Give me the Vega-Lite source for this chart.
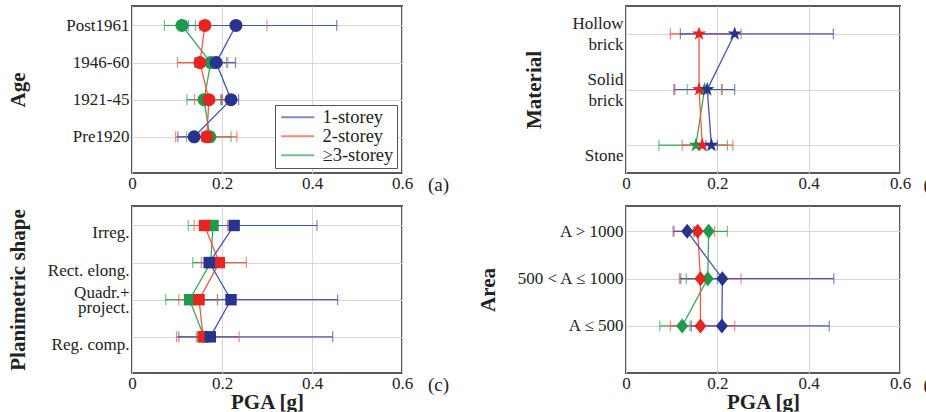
{
  "$schema": "https://vega.github.io/schema/vega-lite/v6.json",
  "background": "white",
  "config": {
    "font": "Liberation Serif",
    "view": {"stroke": "#5a5a5a", "strokeWidth": 2},
    "axis": {"labelFont": "Liberation Serif", "labelFontSize": 17, "labelColor": "#222222", "titleFont": "Liberation Serif", "titleFontSize": 21, "titleFontWeight": "bold", "titleColor": "#222222", "ticks": false, "domain": false, "gridColor": "#d6d6d6", "labelOverlap": false, "labelFlush": false},
    "axisY": {"labelPadding": 3},
    "axisX": {"labelPadding": 2, "titlePadding": 0}
  },
  "spacing": 10,
  "vconcat": [
    {
      "spacing": 72,
      "resolve": {"scale": {"stroke": "independent", "fill": "independent", "color": "independent"}, "legend": {"stroke": "independent"}},
      "hconcat": [
        {
          "width": 270,
          "height": 167,
          "data": {
            "values": [
              {"cat": "Post1961", "storey": "≥3-storey", "pga": 0.111, "lo": 0.072, "hi": 0.141},
              {"cat": "1946-60", "storey": "≥3-storey", "pga": 0.175, "lo": 0.140, "hi": 0.210},
              {"cat": "1921-45", "storey": "≥3-storey", "pga": 0.160, "lo": 0.122, "hi": 0.197},
              {"cat": "Pre1920", "storey": "≥3-storey", "pga": 0.173, "lo": 0.121, "hi": 0.220},
              {"cat": "Post1961", "storey": "2-storey", "pga": 0.162, "lo": 0.151, "hi": 0.300},
              {"cat": "1946-60", "storey": "2-storey", "pga": 0.151, "lo": 0.101, "hi": 0.213},
              {"cat": "1921-45", "storey": "2-storey", "pga": 0.171, "lo": 0.139, "hi": 0.201},
              {"cat": "Pre1920", "storey": "2-storey", "pga": 0.166, "lo": 0.097, "hi": 0.233},
              {"cat": "Post1961", "storey": "1-storey", "pga": 0.231, "lo": 0.125, "hi": 0.455},
              {"cat": "1946-60", "storey": "1-storey", "pga": 0.187, "lo": 0.140, "hi": 0.230},
              {"cat": "1921-45", "storey": "1-storey", "pga": 0.220, "lo": 0.199, "hi": 0.237},
              {"cat": "Pre1920", "storey": "1-storey", "pga": 0.138, "lo": 0.102, "hi": 0.155}
            ]
          },
          "encoding": {
            "y": {"field": "cat", "type": "nominal", "sort": ["Post1961", "1946-60", "1921-45", "Pre1920"], "scale": {"type": "point", "padding": 0.75, "align": 0.35}, "axis": {"title": "Age", "grid": true, "titleX": -104}}
          },
          "resolve": {"axis": {"x": "independent"}},
          "layer": [
            {
              "mark": {"type": "line", "strokeWidth": 1.3},
              "encoding": {
                "x": {"field": "pga", "type": "quantitative", "title": null, "scale": {"domain": [0, 0.6], "nice": false}, "axis": {"values": [0, 0.2, 0.4, 0.6], "format": "~f", "grid": true}},
                "stroke": {"field": "storey", "type": "nominal", "scale": {"domain": ["1-storey", "2-storey", "≥3-storey"], "range": ["#4657ad", "#ef5b3f", "#3aa75a"]},
                  "legend": {"orient": "bottom-right", "offset": 5, "title": null, "strokeColor": "#555555", "fillColor": "white", "padding": 3, "symbolType": "M-1,0H4.5", "symbolSize": 144, "symbolStrokeWidth": 2, "labelOffset": 26, "labelFont": "Liberation Serif", "labelFontSize": 18.5, "labelColor": "#222222", "rowPadding": 0}},
                "order": {"value": null}
              }
            },
            {"mark": {"type": "rule", "strokeWidth": 1.2}, "encoding": {"x": {"field": "lo", "type": "quantitative", "axis": null}, "x2": {"field": "hi"}, "stroke": {"field": "storey", "type": "nominal"}}},
            {"mark": {"type": "tick", "orient": "vertical", "size": 11, "thickness": 1.2}, "encoding": {"x": {"field": "lo", "type": "quantitative", "axis": null}, "color": {"field": "storey", "type": "nominal", "scale": {"domain": ["1-storey", "2-storey", "≥3-storey"], "range": ["#4657ad", "#ef5b3f", "#3aa75a"]}, "legend": null}}},
            {"mark": {"type": "tick", "orient": "vertical", "size": 11, "thickness": 1.2}, "encoding": {"x": {"field": "hi", "type": "quantitative", "axis": null}, "color": {"field": "storey", "type": "nominal"}}},
            {"mark": {"type": "point", "shape": "circle", "filled": true, "size": 170, "opacity": 1},
              "encoding": {
                "x": {"field": "pga", "type": "quantitative", "axis": {"orient": "top", "title": "(a)", "labels": false, "grid": false, "titleX": 306, "titleY": 178, "titleAngle": 0, "titleBaseline": "middle", "titleAlign": "center", "titleFontWeight": "normal", "titleFontSize": 19}},
                "fill": {"field": "storey", "type": "nominal", "scale": {"domain": ["1-storey", "2-storey", "≥3-storey"], "range": ["#27338f", "#e62420", "#1d9a4a"]}, "legend": null}
              }
            }
          ]
        },
        {
          "width": 274,
          "height": 167,
          "data": {
            "values": [
              {"cat": "Solid brick", "storey": "≥3-storey", "pga": 0.172, "lo": 0.134, "hi": 0.211},
              {"cat": "Stone", "storey": "≥3-storey", "pga": 0.153, "lo": 0.072, "hi": 0.222},
              {"cat": "Hollow brick", "storey": "2-storey", "pga": 0.160, "lo": 0.097, "hi": 0.252},
              {"cat": "Solid brick", "storey": "2-storey", "pga": 0.160, "lo": 0.107, "hi": 0.209},
              {"cat": "Stone", "storey": "2-storey", "pga": 0.167, "lo": 0.123, "hi": 0.234},
              {"cat": "Hollow brick", "storey": "1-storey", "pga": 0.238, "lo": 0.119, "hi": 0.454},
              {"cat": "Solid brick", "storey": "1-storey", "pga": 0.178, "lo": 0.105, "hi": 0.238},
              {"cat": "Stone", "storey": "1-storey", "pga": 0.187, "lo": 0.175, "hi": 0.200}
            ]
          },
          "encoding": {
            "y": {"field": "cat", "type": "nominal", "sort": ["Hollow brick", "Solid brick", "Stone"], "scale": {"type": "point", "padding": 0.5}, "axis": {"title": "Material", "grid": true, "titleX": -82, "labelExpr": "split(datum.label, ' ').length > 1 ? split(datum.label, ' ') : ['', datum.label]", "labelLineHeight": 21, "labelOffset": -10.5}}
          },
          "resolve": {"axis": {"x": "independent"}},
          "layer": [
            {
              "mark": {"type": "line", "strokeWidth": 1.3},
              "encoding": {
                "x": {"field": "pga", "type": "quantitative", "title": null, "scale": {"domain": [0, 0.6], "nice": false}, "axis": {"values": [0, 0.2, 0.4, 0.6], "format": "~f", "grid": true}},
                "stroke": {"field": "storey", "type": "nominal", "scale": {"domain": ["1-storey", "2-storey", "≥3-storey"], "range": ["#4657ad", "#ef5b3f", "#3aa75a"]}, "legend": null},
                "order": {"value": null}
              }
            },
            {"mark": {"type": "rule", "strokeWidth": 1.2}, "encoding": {"x": {"field": "lo", "type": "quantitative", "axis": null}, "x2": {"field": "hi"}, "stroke": {"field": "storey", "type": "nominal"}}},
            {"mark": {"type": "tick", "orient": "vertical", "size": 11, "thickness": 1.2}, "encoding": {"x": {"field": "lo", "type": "quantitative", "axis": null}, "color": {"field": "storey", "type": "nominal", "scale": {"domain": ["1-storey", "2-storey", "≥3-storey"], "range": ["#4657ad", "#ef5b3f", "#3aa75a"]}, "legend": null}}},
            {"mark": {"type": "tick", "orient": "vertical", "size": 11, "thickness": 1.2}, "encoding": {"x": {"field": "hi", "type": "quantitative", "axis": null}, "color": {"field": "storey", "type": "nominal"}}},
            {"mark": {"type": "point", "shape": "M0,-1L0.235,-0.324L0.951,-0.309L0.38,0.124L0.588,0.809L0,0.4L-0.588,0.809L-0.38,0.124L-0.951,-0.309L-0.235,-0.324Z", "filled": true, "size": 220, "opacity": 1},
              "encoding": {
                "x": {"field": "pga", "type": "quantitative", "axis": {"orient": "top", "title": "(b)", "labels": false, "grid": false, "titleX": 308, "titleY": 178, "titleAngle": 0, "titleBaseline": "middle", "titleAlign": "center", "titleFontWeight": "normal", "titleFontSize": 19}},
                "fill": {"field": "storey", "type": "nominal", "scale": {"domain": ["1-storey", "2-storey", "≥3-storey"], "range": ["#27338f", "#e62420", "#1d9a4a"]}, "legend": null}
              }
            }
          ]
        }
      ]
    },
    {
      "spacing": 26,
      "resolve": {"scale": {"stroke": "independent", "fill": "independent", "color": "independent"}, "legend": {"stroke": "independent"}},
      "hconcat": [
        {
          "width": 270,
          "height": 167,
          "data": {
            "values": [
              {"cat": "Irreg.", "storey": "≥3-storey", "pga": 0.180, "lo": 0.125, "hi": 0.222},
              {"cat": "Rect. elong.", "storey": "≥3-storey", "pga": 0.175, "lo": 0.135, "hi": 0.198},
              {"cat": "Quadr.+ project.", "storey": "≥3-storey", "pga": 0.128, "lo": 0.075, "hi": 0.190},
              {"cat": "Reg. comp.", "storey": "≥3-storey", "pga": 0.160, "lo": 0.143, "hi": 0.180},
              {"cat": "Irreg.", "storey": "2-storey", "pga": 0.161, "lo": 0.138, "hi": 0.212},
              {"cat": "Rect. elong.", "storey": "2-storey", "pga": 0.194, "lo": 0.154, "hi": 0.254},
              {"cat": "Quadr.+ project.", "storey": "2-storey", "pga": 0.149, "lo": 0.104, "hi": 0.190},
              {"cat": "Reg. comp.", "storey": "2-storey", "pga": 0.158, "lo": 0.099, "hi": 0.238},
              {"cat": "Irreg.", "storey": "1-storey", "pga": 0.227, "lo": 0.152, "hi": 0.411},
              {"cat": "Rect. elong.", "storey": "1-storey", "pga": 0.172, "lo": 0.160, "hi": 0.190},
              {"cat": "Quadr.+ project.", "storey": "1-storey", "pga": 0.220, "lo": 0.140, "hi": 0.457},
              {"cat": "Reg. comp.", "storey": "1-storey", "pga": 0.174, "lo": 0.104, "hi": 0.446}
            ]
          },
          "encoding": {
            "y": {"field": "cat", "type": "nominal", "sort": ["Irreg.", "Rect. elong.", "Quadr.+ project.", "Reg. comp."], "scale": {"type": "point", "padding": 0.75, "align": 0.35}, "axis": {"title": "Planimetric shape", "grid": true, "titleX": -104, "labelExpr": "datum.label == 'Quadr.+ project.' ? ['Quadr.+', 'project.'] : ['', datum.label]", "labelLineHeight": 15, "labelOffset": -7.5}}
          },
          "resolve": {"axis": {"x": "independent"}},
          "layer": [
            {
              "mark": {"type": "line", "strokeWidth": 1.3},
              "encoding": {
                "x": {"field": "pga", "type": "quantitative", "title": "PGA [g]", "scale": {"domain": [0, 0.6], "nice": false}, "axis": {"values": [0, 0.2, 0.4, 0.6], "format": "~f", "grid": true}},
                "stroke": {"field": "storey", "type": "nominal", "scale": {"domain": ["1-storey", "2-storey", "≥3-storey"], "range": ["#4657ad", "#ef5b3f", "#3aa75a"]}, "legend": null},
                "order": {"value": null}
              }
            },
            {"mark": {"type": "rule", "strokeWidth": 1.2}, "encoding": {"x": {"field": "lo", "type": "quantitative", "axis": null}, "x2": {"field": "hi"}, "stroke": {"field": "storey", "type": "nominal"}}},
            {"mark": {"type": "tick", "orient": "vertical", "size": 11, "thickness": 1.2}, "encoding": {"x": {"field": "lo", "type": "quantitative", "axis": null}, "color": {"field": "storey", "type": "nominal", "scale": {"domain": ["1-storey", "2-storey", "≥3-storey"], "range": ["#4657ad", "#ef5b3f", "#3aa75a"]}, "legend": null}}},
            {"mark": {"type": "tick", "orient": "vertical", "size": 11, "thickness": 1.2}, "encoding": {"x": {"field": "hi", "type": "quantitative", "axis": null}, "color": {"field": "storey", "type": "nominal"}}},
            {"mark": {"type": "point", "shape": "square", "filled": true, "size": 130, "opacity": 1},
              "encoding": {
                "x": {"field": "pga", "type": "quantitative", "axis": {"orient": "top", "title": "(c)", "labels": false, "grid": false, "titleX": 306, "titleY": 178, "titleAngle": 0, "titleBaseline": "middle", "titleAlign": "center", "titleFontWeight": "normal", "titleFontSize": 19}},
                "fill": {"field": "storey", "type": "nominal", "scale": {"domain": ["1-storey", "2-storey", "≥3-storey"], "range": ["#27338f", "#e62420", "#1d9a4a"]}, "legend": null}
              }
            }
          ]
        },
        {
          "width": 274,
          "height": 167,
          "data": {
            "values": [
              {"cat": "A > 1000", "storey": "≥3-storey", "pga": 0.181, "lo": 0.147, "hi": 0.222},
              {"cat": "500 < A ≤ 1000", "storey": "≥3-storey", "pga": 0.179, "lo": 0.132, "hi": 0.200},
              {"cat": "A ≤ 500", "storey": "≥3-storey", "pga": 0.123, "lo": 0.074, "hi": 0.140},
              {"cat": "A > 1000", "storey": "2-storey", "pga": 0.157, "lo": 0.103, "hi": 0.194},
              {"cat": "500 < A ≤ 1000", "storey": "2-storey", "pga": 0.163, "lo": 0.117, "hi": 0.252},
              {"cat": "A ≤ 500", "storey": "2-storey", "pga": 0.163, "lo": 0.097, "hi": 0.238},
              {"cat": "A > 1000", "storey": "1-storey", "pga": 0.134, "lo": 0.105, "hi": 0.150},
              {"cat": "500 < A ≤ 1000", "storey": "1-storey", "pga": 0.211, "lo": 0.120, "hi": 0.455},
              {"cat": "A ≤ 500", "storey": "1-storey", "pga": 0.210, "lo": 0.143, "hi": 0.445}
            ]
          },
          "encoding": {
            "y": {"field": "cat", "type": "nominal", "sort": ["A > 1000", "500 < A ≤ 1000", "A ≤ 500"], "scale": {"type": "point", "padding": 0.765, "align": 0.35}, "axis": {"title": "Area", "grid": true, "titleX": -128}}
          },
          "resolve": {"axis": {"x": "independent"}},
          "layer": [
            {
              "mark": {"type": "line", "strokeWidth": 1.3},
              "encoding": {
                "x": {"field": "pga", "type": "quantitative", "title": "PGA [g]", "scale": {"domain": [0, 0.6], "nice": false}, "axis": {"values": [0, 0.2, 0.4, 0.6], "format": "~f", "grid": true}},
                "stroke": {"field": "storey", "type": "nominal", "scale": {"domain": ["1-storey", "2-storey", "≥3-storey"], "range": ["#4657ad", "#ef5b3f", "#3aa75a"]}, "legend": null},
                "order": {"value": null}
              }
            },
            {"mark": {"type": "rule", "strokeWidth": 1.2}, "encoding": {"x": {"field": "lo", "type": "quantitative", "axis": null}, "x2": {"field": "hi"}, "stroke": {"field": "storey", "type": "nominal"}}},
            {"mark": {"type": "tick", "orient": "vertical", "size": 11, "thickness": 1.2}, "encoding": {"x": {"field": "lo", "type": "quantitative", "axis": null}, "color": {"field": "storey", "type": "nominal", "scale": {"domain": ["1-storey", "2-storey", "≥3-storey"], "range": ["#4657ad", "#ef5b3f", "#3aa75a"]}, "legend": null}}},
            {"mark": {"type": "tick", "orient": "vertical", "size": 11, "thickness": 1.2}, "encoding": {"x": {"field": "hi", "type": "quantitative", "axis": null}, "color": {"field": "storey", "type": "nominal"}}},
            {"mark": {"type": "point", "shape": "M0,-1L0.8,0L0,1L-0.8,0Z", "filled": true, "size": 225, "opacity": 1},
              "encoding": {
                "x": {"field": "pga", "type": "quantitative", "axis": {"orient": "top", "title": "(d)", "labels": false, "grid": false, "titleX": 308, "titleY": 178, "titleAngle": 0, "titleBaseline": "middle", "titleAlign": "center", "titleFontWeight": "normal", "titleFontSize": 19}},
                "fill": {"field": "storey", "type": "nominal", "scale": {"domain": ["1-storey", "2-storey", "≥3-storey"], "range": ["#27338f", "#e62420", "#1d9a4a"]}, "legend": null}
              }
            }
          ]
        }
      ]
    }
  ],
  "resolve": {"scale": {"stroke": "independent", "fill": "independent", "color": "independent"}, "legend": {"stroke": "independent"}}
}
